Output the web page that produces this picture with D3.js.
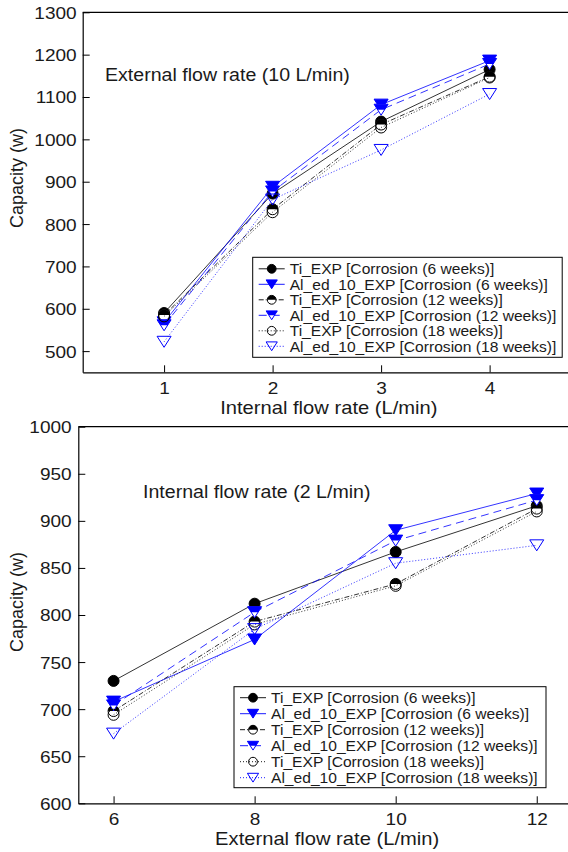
<!DOCTYPE html>
<html>
<head>
<meta charset="utf-8">
<script src="https://cdn.jsdelivr.net/npm/d3@7/dist/d3.min.js"></script>
<style>
  html, body { margin: 0; padding: 0; background: #fff; }
  svg { display: block; }
</style>
</head>
<body>
<script>
// ---- data -------------------------------------------------------------
const seriesLabels = [
  "Ti_EXP [Corrosion (6 weeks)]",
  "Al_ed_10_EXP [Corrosion (6 weeks)]",
  "Ti_EXP [Corrosion (12 weeks)]",
  "Al_ed_10_EXP [Corrosion (12 weeks)]",
  "Ti_EXP [Corrosion (18 weeks)]",
  "Al_ed_10_EXP [Corrosion (18 weeks)]"
];

// Panel 1: external flow fixed at 10 L/min, internal flow varied
const internalFlow = [1, 2, 3, 4];
const intTicksY = [500, 600, 700, 800, 900, 1000, 1100, 1200, 1300];
const intTi6  = [590, 872, 1042, 1165];
const intAl6  = [568, 888, 1082, 1186];
const intTi12 = [585, 835, 1035, 1148];
const intAl12 = [561, 877, 1070, 1178];
const intTi18 = [582, 828, 1028, 1146];
const intAl18 = [522, 858, 975, 1107];

// Panel 2: internal flow fixed at 2 L/min, external flow varied
const externalFlow = [6, 8, 10, 12];
const extTicksY = [600, 650, 700, 750, 800, 850, 900, 950, 1000];
const extTi6  = [730, 812, 867, 916];
const extAl6  = [708, 774, 890, 929];
const extTi12 = [698, 793, 833, 913];
const extAl12 = [704, 803, 879, 922];
const extTi18 = [694, 790, 831, 910];
const extAl18 = [674, 785, 855, 874];

// ---- styles -----------------------------------------------------------
const BLUE = "#0000ff", BLACK = "#000000";
const seriesStyle = [
  { color: BLACK, dash: null,      marker: "circleFilled" },
  { color: BLUE,  dash: null,      marker: "triFilled" },
  { color: BLACK, dash: "5,2,1,2", marker: "circleHalf" },
  { color: BLUE,  dash: "8,5",     marker: "triHalf" },
  { color: BLACK, dash: "1,2",     marker: "circleOpen" },
  { color: BLUE,  dash: "1,2",     marker: "triOpen" }
];
const FONT = "'Liberation Sans', Arial, Helvetica, sans-serif";
const TEXT = "#1a1a1a";
const SX = 1.12;   // slightly wide lettering

const svg = d3.select("body").append("svg")
  .attr("width", 568).attr("height", 852)
  .attr("viewBox", "0 0 568 852");

function addText(g, x, y, str, size, anchor, sx, rotate) {
  return g.append("text")
    .attr("transform", `translate(${x},${y})` + (rotate ? ` rotate(${rotate})` : "") + ` scale(${sx},1)`)
    .attr("text-anchor", anchor)
    .attr("dy", "0.35em")
    .style("font-family", FONT)
    .style("font-size", size + "px")
    .style("fill", TEXT)
    .text(str);
}

function drawMarker(g, type, color, x, y, k) {
  const s = k || 1;
  const r = 5.5 * s, w = 14 * s, h = 11 * s;
  const tri = `M${-w/2},${-h/2}L${w/2},${-h/2}L0,${h/2}Z`;
  const triTop = `M${-w/2},${-h/2}L${w/2},${-h/2}L${w/4},0L${-w/4},0Z`;
  const m = g.append("g").attr("transform", `translate(${x},${y})`);
  switch (type) {
    case "circleFilled":
      m.append("circle").attr("r", r).attr("fill", color).attr("stroke", color);
      break;
    case "circleHalf":
      m.append("circle").attr("r", r).attr("fill", "#fff");
      m.append("path").attr("d", `M${-r},0A${r},${r} 0 0 1 ${r},0Z`).attr("fill", color);
      m.append("circle").attr("r", r).attr("fill", "none").attr("stroke", color).attr("stroke-width", 1);
      break;
    case "circleOpen":
      m.append("circle").attr("r", r).attr("fill", "none").attr("stroke", color).attr("stroke-width", 1);
      break;
    case "triFilled":
      m.append("path").attr("d", tri).attr("fill", color).attr("stroke", color).attr("stroke-linejoin", "round");
      break;
    case "triHalf":
      m.append("path").attr("d", tri).attr("fill", "#fff");
      m.append("path").attr("d", triTop).attr("fill", color);
      m.append("path").attr("d", tri).attr("fill", "none").attr("stroke", color).attr("stroke-width", 1);
      break;
    case "triOpen":
      m.append("path").attr("d", tri).attr("fill", "none").attr("stroke", color).attr("stroke-width", 1);
      break;
  }
}

function drawPanel(cfg) {
  const g = svg.append("g");
  const x = d3.scaleLinear().domain(cfg.xDomain).range(cfg.xRange);
  const y = d3.scaleLinear().domain(cfg.yDomain).range(cfg.yRange);

  // frame: top border line
  g.append("line")
    .attr("x1", cfg.xRange[0]).attr("x2", cfg.xRange[1])
    .attr("y1", cfg.yRange[1]).attr("y2", cfg.yRange[1])
    .attr("stroke", BLACK).attr("stroke-width", 1.2);

  // y axis, ticks pointing inwards
  const ya = g.append("g")
    .attr("transform", `translate(${cfg.xRange[0]},0)`)
    .call(d3.axisLeft(y).tickValues(cfg.yTicks).tickSizeInner(-7).tickSizeOuter(0)
      .tickPadding(6).tickFormat(d3.format("d")));
  ya.select(".domain").attr("stroke", BLACK).attr("stroke-width", 1.2);
  ya.selectAll(".tick line").attr("stroke", BLACK).attr("stroke-width", 1);
  ya.selectAll(".tick text")
    .attr("x", null)
    .attr("transform", `translate(${-cfg.yPad},0) scale(${SX},1)`)
    .attr("dy", "0.35em")
    .style("font-family", FONT).style("font-size", "17px").style("fill", TEXT);

  // x axis, ticks pointing inwards
  const xa = g.append("g")
    .attr("transform", `translate(0,${cfg.yRange[0]})`)
    .call(d3.axisBottom(x).tickValues(cfg.xTicks).tickSizeInner(-7).tickSizeOuter(0)
      .tickPadding(10).tickFormat(d3.format("d")));
  xa.select(".domain").attr("stroke", BLACK).attr("stroke-width", 1.2);
  xa.selectAll(".tick line").attr("stroke", BLACK).attr("stroke-width", 1);
  xa.selectAll(".tick text")
    .attr("y", null)
    .attr("transform", `translate(0,10) scale(${SX},1)`)
    .attr("dy", "0.71em")
    .style("font-family", FONT).style("font-size", "17px").style("fill", TEXT);

  // axis titles
  addText(g, (cfg.xRange[0] + cfg.xRange[1]) / 2 + 2, cfg.yRange[0] + 35, cfg.xTitle, 18, "middle", SX);
  addText(g, 17, cfg.yTitleY, "Capacity (w)", 18, "middle", 1, -90);

  // annotation
  addText(g, cfg.note[0], cfg.note[1], cfg.noteText, 17.5, "start", SX);

  // series: line then markers, in plotting order
  cfg.series.forEach((vals, i) => {
    const st = seriesStyle[i];
    const pts = cfg.xVals.map((xv, j) => [x(xv), y(vals[j])]);
    g.append("path")
      .attr("d", d3.line()(pts))
      .attr("fill", "none")
      .attr("stroke", st.color)
      .attr("stroke-width", 0.8)
      .attr("stroke-dasharray", st.dash);
    pts.forEach(p => drawMarker(g, st.marker, st.color, p[0], p[1]));
  });

  // legend
  const L = cfg.legend;
  const lg = g.append("g");
  lg.append("rect")
    .attr("x", L.x).attr("y", L.y).attr("width", L.w).attr("height", L.h)
    .attr("fill", "#fff").attr("stroke", BLACK).attr("stroke-width", 1);
  seriesLabels.forEach((lab, i) => {
    const st = seriesStyle[i];
    const cy = L.y + L.first + i * L.step;
    lg.append("line")
      .attr("x1", L.x + 6).attr("x2", L.x + 32)
      .attr("y1", cy).attr("y2", cy)
      .attr("stroke", st.color).attr("stroke-width", 0.9)
      .attr("stroke-dasharray", st.dash);
    drawMarker(lg, st.marker, st.color, L.x + 19, cy, 0.8);
    addText(lg, L.x + 37, cy, lab, 15, "start", 1.04);
  });
}

drawPanel({
  xDomain: [0.25, 4.75], xRange: [82.7, 571],
  yDomain: [450, 1300], yRange: [372.3, 12.3],
  xTicks: internalFlow, yTicks: intTicksY, yPad: 6,
  xVals: internalFlow,
  xTitle: "Internal flow rate (L/min)", yTitleY: 178,
  note: [105, 75], noteText: "External flow rate (10 L/min)",
  series: [intTi6, intAl6, intTi12, intAl12, intTi18, intAl18],
  legend: { x: 252.7, y: 257.3, w: 309.5, h: 100, first: 11.5, step: 15.5 }
});

drawPanel({
  xDomain: [5.5, 12.5], xRange: [78.3, 572],
  yDomain: [600, 1000], yRange: [803.3, 426.7],
  xTicks: externalFlow, yTicks: extTicksY, yPad: 6.6,
  xVals: externalFlow,
  xTitle: "External flow rate (L/min)", yTitleY: 602,
  note: [143, 492], noteText: "Internal flow rate (2 L/min)",
  series: [extTi6, extAl6, extTi12, extAl12, extTi18, extAl18],
  legend: { x: 234, y: 686.7, w: 312, h: 101, first: 11, step: 16 }
});
</script>
</body>
</html>
